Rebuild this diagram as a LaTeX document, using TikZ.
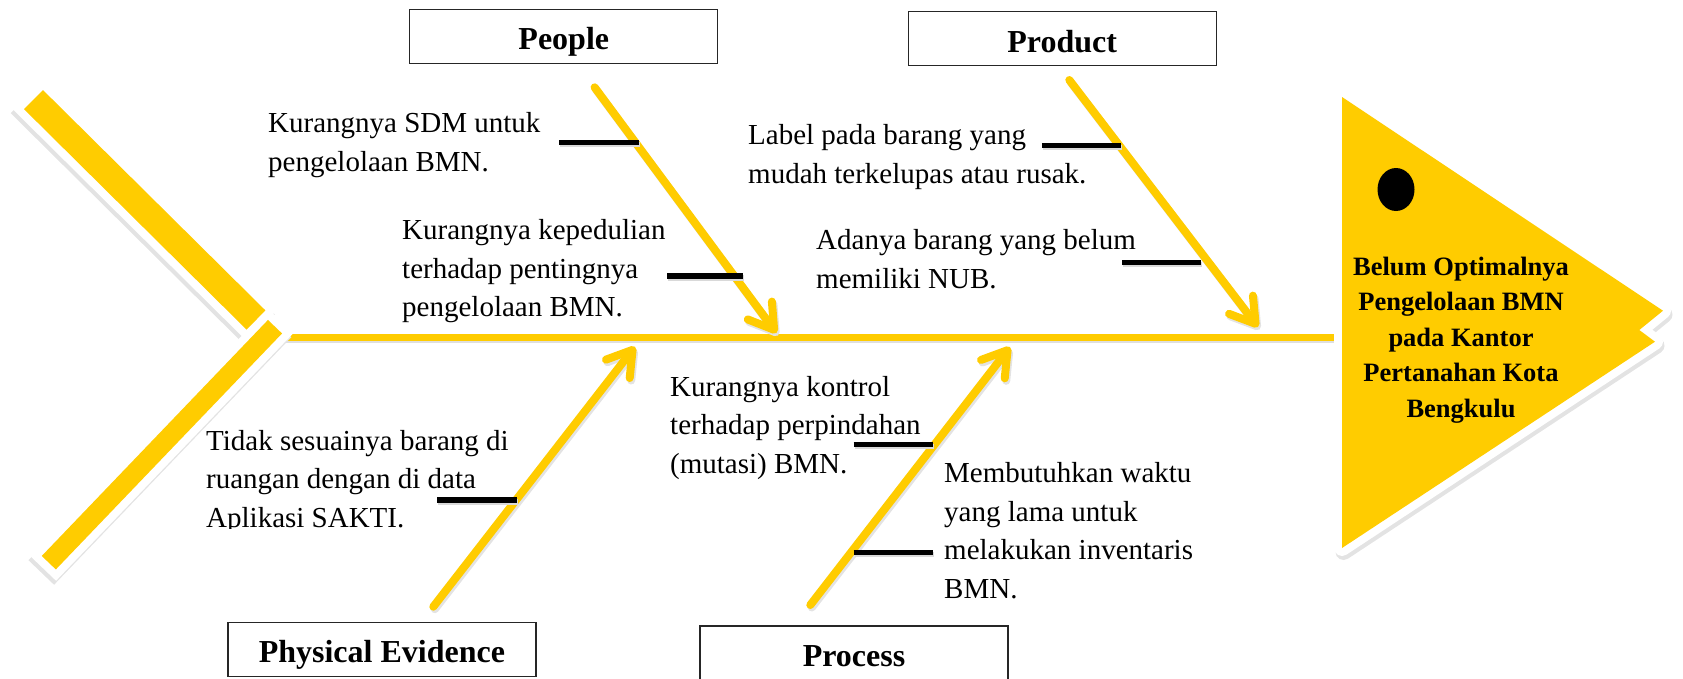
\documentclass[tikz,border=0pt]{standalone}
\usepackage{fontspec}
\setmainfont{Liberation Serif}
\usetikzlibrary{arrows.meta,calc}
\definecolor{fishyellow}{RGB}{255,204,0}
\begin{document}
\begin{tikzpicture}[x=1pt,y=-1pt,
  bodytext/.style={font=\fontsize{29}{38.5}\selectfont, align=left, anchor=base west, inner sep=0pt},
  goaltext/.style={font=\fontsize{26.5}{35.5}\selectfont\bfseries, align=center, anchor=base, inner sep=0pt},
  catbox/.style={draw=black!85, line width=1.2pt, minimum width=308pt, minimum height=54pt, inner sep=0pt,
    text height=27pt, text depth=0pt, font=\fontsize{32}{38}\selectfont\bfseries},
  tickline/.style={line width=5.5pt, black},
  tickshadow/.style={line width=5.5pt, gray!30, transform canvas={xshift=1pt,yshift=-2pt}},
  causearrow/.style={line width=8pt, fishyellow, line cap=round, -{Straight Barb[round,length=24pt,width=30pt]}},
  arrowshadow/.style={causearrow, gray!22, transform canvas={xshift=1.5pt,yshift=-2.5pt}},
  softshadow/.style={gray!22, transform canvas={xshift=-2pt,yshift=-4pt}},
]
\useasboundingbox (0,0) rectangle (1683,678);

% ---------- coordinates ----------
\coordinate (U1) at (33.5,99.6);
\coordinate (U2) at (256,320);
\coordinate (L1) at (275,326.7);
\coordinate (L2) at (48.8,562.7);
\coordinate (spineL) at (270,337.5);
\coordinate (spineR) at (1342,337.5);
\coordinate (T1) at (1342,97);
\coordinate (T2) at (1663,310.7);
\coordinate (T3) at (1639.3,330);
\coordinate (T4) at (1655,341.7);
\coordinate (T5) at (1342,548);

% ---------- tail (upper bar) ----------
\draw[softshadow, line width=42.9pt] ($(U1)!-8pt!(U2)$) -- ($(U2)!-8pt!(U1)$);
\draw[white, line width=42.9pt] ($(U1)!-8pt!(U2)$) -- ($(U2)!-8pt!(U1)$);
\draw[fishyellow, line width=26.9pt] (U1) -- (U2);

% ---------- spine ----------
\draw[gray!25, line width=7.5pt, transform canvas={yshift=-2pt}] (spineL) -- (spineR);
\draw[fishyellow, line width=7.5pt] (spineL) -- (spineR);

% ---------- tail (lower bar) ----------
\draw[softshadow, line width=35.5pt] ($(L1)!-8pt!(L2)$) -- ($(L2)!-8pt!(L1)$);
\draw[white, line width=35.5pt] ($(L1)!-8pt!(L2)$) -- ($(L2)!-8pt!(L1)$);
\draw[fishyellow, line width=19.5pt] (L1) -- (L2);

% ---------- head ----------
\fill[gray!22, transform canvas={xshift=1.5pt,yshift=-4pt}] (T1) -- (T2) -- (T3) -- (T4) -- (T5) -- cycle;
\draw[gray!22, line width=16pt, line join=round, transform canvas={xshift=1.5pt,yshift=-4pt}] (T1) -- (T2) -- (T3) -- (T4) -- (T5) -- cycle;
\draw[white, line width=16pt, line join=round] (T1) -- (T2) -- (T3) -- (T4) -- (T5) -- cycle;
\fill[fishyellow] (T1) -- (T2) -- (T3) -- (T4) -- (T5) -- cycle;
\fill[black] (1396,189.5) ellipse (18.5pt and 21.5pt);
% base anchor of a multi-line node = baseline of its last line
\node[goaltext] (goal) at (1461,417) {Belum Optimalnya\\Pengelolaan BMN\\pada Kantor\\Pertanahan Kota\\Bengkulu};

% ---------- cause arrows ----------
\coordinate (a1s) at (594.6,87.3);   \coordinate (a1e) at (776.5,333);
\coordinate (a2s) at (1069.3,80);    \coordinate (a2e) at (1258,327);
\coordinate (a3s) at (433.3,606.7);  \coordinate (a3e) at (635,346.7);
\coordinate (a4s) at (810.3,605);    \coordinate (a4e) at (1010,347);
\foreach \s/\e in {a1s/a1e,a2s/a2e,a3s/a3e,a4s/a4e}{
  \draw[arrowshadow] (\s) -- (\e);
  \draw[causearrow] (\s) -- (\e);
}

% ---------- sub-cause ticks ----------
\coordinate (k1a) at (559,142.3);    \coordinate (k1b) at (638.6,142.3);
\coordinate (k2a) at (667,276);      \coordinate (k2b) at (743,276);
\coordinate (k3a) at (1041.8,145.7); \coordinate (k3b) at (1121,145.7);
\coordinate (k4a) at (1122,262.3);   \coordinate (k4b) at (1201.3,262.3);
\coordinate (k5a) at (437.3,500);    \coordinate (k5b) at (516.7,500);
\coordinate (k6a) at (853.5,444.3);  \coordinate (k6b) at (932.8,444.3);
\coordinate (k7a) at (853.5,552.3);  \coordinate (k7b) at (932.8,552.3);
\foreach \a/\b in {k1a/k1b,k2a/k2b,k3a/k3b,k4a/k4b,k5a/k5b,k6a/k6b,k7a/k7b}{
  \draw[tickshadow] (\a) -- (\b);
  \draw[tickline] (\a) -- (\b);
}

% ---------- texts (positions = baseline of last line) ----------
\node[bodytext] (c1) at (268,171) {Kurangnya SDM untuk\\pengelolaan BMN.};
\node[bodytext] (c2) at (402,316.5) {Kurangnya kepedulian\\terhadap pentingnya\\pengelolaan BMN.};
\node[bodytext] (c3) at (748,183) {Label pada barang yang\\mudah terkelupas atau rusak.};
\node[bodytext] (c4) at (816,288) {Adanya barang yang belum\\memiliki NUB.};
\begin{scope}
  \clip (0,0) rectangle (1683,528.5);
  \node[bodytext] (c5) at (206,527) {Tidak sesuainya barang di\\ruangan dengan di data\\Aplikasi SAKTI.};
\end{scope}
\node[bodytext] (c6) at (670,473.3) {Kurangnya kontrol\\terhadap perpindahan\\(mutasi) BMN.};
\node[bodytext] (c7) at (944,598) {Membutuhkan waktu\\yang lama untuk\\melakukan inventaris\\BMN.};

% ---------- category boxes ----------
\node[catbox] (people) at (563.8,36.3) {People};
\node[catbox] (product) at (1062.2,38.7) {Product};
\node[catbox] (physical) at (381.9,649.4) {Physical Evidence};
\node[catbox] (process) at (854,653) {Process};
\end{tikzpicture}
\end{document}
